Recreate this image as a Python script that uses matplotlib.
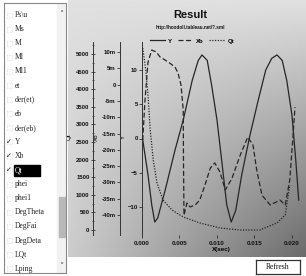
import numpy as np
import matplotlib.pyplot as plt
from matplotlib.patches import Rectangle
from matplotlib.ticker import MultipleLocator

# 数据
items = ['Ps\\u', 'Ms', 'M', 'Ml', 'Ml1', 'et', 'der(et)', 'eb', 'der(eb)',
         'Y', 'Xb', 'Qt', 'phei', 'phei1', 'DegTheta', 'DegFai', 'DegDeta', 'LQt', 'Lping']
checked = ['Y', 'Xb', 'Qt']
selected = 'Qt'

t_y = [0.0001, 0.0008, 0.0013, 0.0017, 0.0021, 0.0031, 0.0044, 0.0055, 0.0067, 0.0075,
       0.0080, 0.0087, 0.0093, 0.0100, 0.0107, 0.0113, 0.0119, 0.0125, 0.0133, 0.0144,
       0.0155, 0.0165, 0.0173, 0.0180, 0.0187, 0.0193, 0.0200, 0.0205, 0.0209]
y_vals = [-0.2, -5.3, -9.7, -12.2, -11.6, -7.5, -1.7, 2.7, 8.5, 11.4,
          12.2, 11.4, 7.7, 2.7, -3.9, -9.7, -12.2, -10.5, -5.3, 0.5,
          5.6, 10.0, 11.7, 12.2, 11.4, 8.5, 3.4, -3.1, -9.0]

t_xb = [0.0001, 0.0004, 0.0008, 0.0013, 0.0019, 0.0024, 0.0031, 0.0037, 0.0044, 0.0048,
        0.0052, 0.0055, 0.00553, 0.0056, 0.0060, 0.0064, 0.0071, 0.0077, 0.0084, 0.0091,
        0.0097, 0.0104, 0.0111, 0.0120, 0.0131, 0.0141, 0.0148, 0.0153, 0.0160, 0.0171,
        0.0184, 0.0191, 0.0197, 0.0201, 0.0204]
xb_vals = [-17.0, -4.7, 6.9, 10.6, 10.0, 8.5, 7.5, 6.6, 5.4, 3.6,
           -0.1, -7.8, -23.1, -40.0, -36.3, -37.5, -36.9, -35.4, -30.8, -25.6,
           -24.0, -26.8, -32.3, -28.7, -21.6, -16.1, -18.5, -26.2, -33.9, -36.9,
           -35.4, -36.9, -29.3, -17.0, -6.9]

t_qt = [0.0001, 0.0005, 0.0008, 0.0011, 0.0015, 0.0020, 0.0028, 0.0040, 0.0055, 0.0077,
        0.0104, 0.0131, 0.0157, 0.0180, 0.0191, 0.0197]
qt_vals = [5170, 4545, 3835, 2840, 1990, 1335, 852, 568, 369, 200,
           57, 0, 0, 200, 426, 1278]

x_ticks = [0.0, 0.005, 0.010, 0.015, 0.020]
W, H = 306, 276


def fx(x):
    return x / W


def fy(y):
    return 1 - y / H


fig = plt.figure(figsize=(W / 100, H / 100), dpi=100)
fig.patch.set_facecolor('white')
narrow = ['Liberation Sans Narrow', 'Liberation Sans', 'DejaVu Sans']
serif = ['Liberation Serif', 'DejaVu Serif']

# 图表背景渐变
bg = fig.add_axes([fx(68), fy(257), fx(238), 257 / H])
xf, yf = np.meshgrid(np.linspace(0, 1, 120), np.linspace(0, 1, 120))
grad = 0.88 - yf * (0.08 + 0.38 * xf)
bg.imshow(grad, cmap='gray', vmin=0, vmax=1, aspect='auto', extent=[0, 1, 0, 1], origin='upper')
bg.axis('off')

# 主图
ax = fig.add_axes([fx(142), fy(235), fx(158), 193 / H])
ax.patch.set_visible(False)
ax_xb = ax.twinx()
ax_qt = ax.twinx()

line_c = '#262626'
l1, = ax.plot(t_y, y_vals, color=line_c, lw=0.9, label='Y')
l2, = ax_xb.plot(t_xb, xb_vals, color=line_c, lw=0.9, ls=(0, (4, 2)), label='Xb')
l3, = ax_qt.plot(t_qt, qt_vals, color=line_c, lw=0.9, ls=(0, (1, 1.2)), label='Qt')

ax.set_xlim(0, 0.02107)
ax.set_ylim(-14.09, 14.09)
ax_xb.set_ylim(-46.1, 13.07)
ax_qt.set_ylim(-142, 5341)

for a in (ax, ax_xb, ax_qt):
    for s in ('top', 'right', 'bottom'):
        a.spines[s].set_visible(False)
    a.spines['left'].set_visible(True)
    a.spines['left'].set_linestyle((0, (1, 1)))
    a.spines['left'].set_linewidth(0.7)
    a.spines['left'].set_color('#333333')
    a.yaxis.tick_left()
    a.yaxis.set_label_position('left')
    a.tick_params(axis='y', labelsize=4.3, length=2, width=0.5, pad=1, colors='#111111')

ax_xb.spines['left'].set_position(('axes', (120 - 142) / 158))
ax_qt.spines['left'].set_position(('axes', (93 - 142) / 158))

ax.set_yticks([-10, -5, 0, 5, 10])
xb_ticks = list(range(-40, 11, 5))
ax_xb.set_yticks(xb_ticks)
ax_xb.set_yticklabels([('0' if v == 0 else f'{v}m') for v in xb_ticks])
ax_qt.set_yticks(range(0, 5001, 500))
ax_qt.yaxis.set_minor_locator(MultipleLocator(250))
ax_qt.tick_params(axis='y', which='minor', length=1.5, width=0.4, direction='inout')
ax_qt.tick_params(axis='y', which='major', direction='inout', length=3)

ax.set_xticks(x_ticks)
ax.set_xticklabels([f'{v:.3f}' for v in x_ticks])
ax.tick_params(axis='x', labelsize=4.5, length=2, width=0.5, pad=2, colors='#111111')
ax.set_xlabel('X(sec)', fontsize=4.5, fontweight='bold', family=narrow, labelpad=1)

for a in (ax, ax_xb, ax_qt):
    for lab in a.get_yticklabels() + a.get_xticklabels():
        lab.set_fontweight('bold')
        lab.set_family(narrow)

ax.set_ylabel('Y', fontsize=4.5, family=narrow)
ax_xb.set_ylabel('Xb', fontsize=4.5, family=narrow)
ax_qt.set_ylabel('Qt', fontsize=4.5, family=narrow)
ymid = (276 - 137 - 41) / 193
ax.yaxis.set_label_coords((126 - 142) / 158, ymid)
ax_xb.yaxis.set_label_coords((99 - 142) / 158, ymid)
ax_qt.yaxis.set_label_coords((72 - 142) / 158, ymid)

# 标题和图例
fig.text(fx(190), fy(15), 'Result', ha='center', va='center', fontsize=8,
         fontweight='bold', family=narrow, color='#111111')
fig.text(fx(190), fy(28), 'http://hoodoll.tableau.net/?.sml', ha='center', va='center',
         fontsize=3.3, fontweight='bold', family=narrow, color='#111111')
fig.legend(handles=[l1, l2, l3], loc='center', bbox_to_anchor=(fx(192), fy(41)), ncol=3,
           frameon=False, prop={'size': 4.3, 'weight': 'bold', 'family': narrow},
           handlelength=2.6, columnspacing=0.9, handletextpad=0.5)

# 列表框
lb = fig.add_axes([fx(4), fy(273), fx(62), 270 / H])
lb.set_xlim(0, 62)
lb.set_ylim(270, 0)
lb.set_xticks([])
lb.set_yticks([])
lb.set_facecolor('white')
for s in lb.spines.values():
    s.set_color('#888888')
    s.set_linewidth(0.8)

for i, name in enumerate(items):
    yy = 12 + i * 14.1
    if name == selected:
        lb.add_patch(Rectangle((10, yy - 5.5), 26, 11, color='black', zorder=2))
        tc = 'white'
    else:
        tc = '#222222'
    lb.text(11, yy, name, fontsize=5.5, family=serif, va='center', ha='left', color=tc, zorder=3)
    lb.add_patch(Rectangle((2.5, yy - 2.5), 5, 5, fill=False, ec='#bbbbbb', lw=0.4, ls=':'))
    if name in checked:
        lb.text(5, yy, '\u2713', fontsize=5, va='center', ha='center', color='#111111',
                family=['DejaVu Sans'])

# 滚动条
lb.add_patch(Rectangle((53, 0), 9, 270, color='#f2f2f2', zorder=1))
lb.add_patch(Rectangle((55, 194), 6, 40, color='#b8b8b8', zorder=2))
lb.text(57.5, 11, '\u02c4', fontsize=6, ha='center', va='center', color='#444444')
lb.text(57.5, 264, '\u02c5', fontsize=6, ha='center', va='center', color='#444444')

# 刷新按钮
btn = fig.add_axes([fx(256), fy(274), fx(44), 14 / H])
btn.set_xticks([])
btn.set_yticks([])
btn.set_facecolor('white')
for s in btn.spines.values():
    s.set_color('#333333')
    s.set_linewidth(0.9)
btn.text(0.5, 0.5, 'Refresh', fontsize=5.5, family=serif, ha='center', va='center',
         transform=btn.transAxes, color='#111111')

plt.savefig('out.png', dpi=100)
